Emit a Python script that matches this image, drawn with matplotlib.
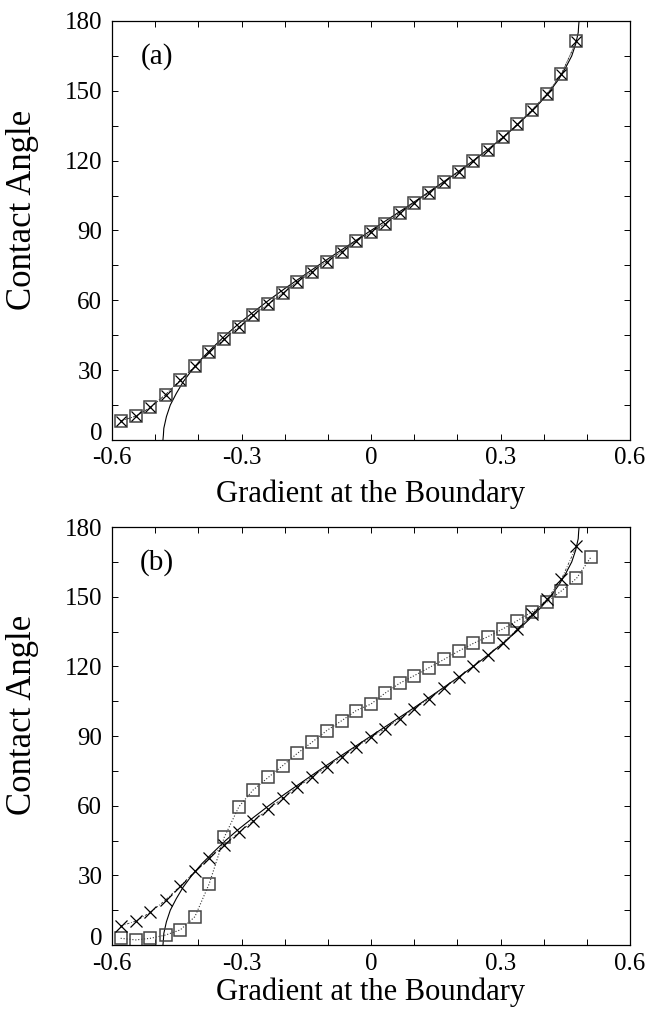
import matplotlib
matplotlib.use('Agg')
import matplotlib.pyplot as plt
from matplotlib.ticker import FixedLocator, FixedFormatter, MultipleLocator

plt.rcParams['font.family'] = ['Liberation Serif', 'DejaVu Serif']
plt.rcParams['axes.unicode_minus'] = False

# gradient values shared by the simulation points
grad = [-0.580, -0.545, -0.511, -0.476, -0.442, -0.408, -0.375, -0.340, -0.306, -0.273,
        -0.238, -0.205, -0.171, -0.137, -0.103, -0.068, -0.035, 0.000, 0.032, 0.066,
        0.100, 0.134, 0.169, 0.204, 0.237, 0.271, 0.305, 0.339, 0.373, 0.408,
        0.441, 0.476]

# panel (a): squares and crosses coincide
angle_a = [8.2, 10.2, 14.0, 19.5, 25.6, 31.6, 37.8, 43.4, 48.5, 53.6,
           58.3, 63.0, 67.9, 72.2, 76.6, 80.9, 85.3, 89.2, 92.9, 97.4,
           101.8, 106.2, 110.7, 115.1, 120.0, 124.7, 130.0, 135.6, 141.8, 148.8,
           157.2, 171.3]

# panel (b): crosses
angle_b_x = [8.2, 10.3, 14.1, 19.4, 25.4, 31.7, 37.6, 43.2, 48.5, 53.4,
             58.4, 63.2, 67.9, 72.4, 76.8, 81.1, 85.3, 89.4, 93.2, 97.5,
             101.8, 106.1, 110.8, 115.4, 120.0, 125.0, 130.2, 136.0, 142.6, 149.0,
             157.5, 171.8]

# panel (b): squares (one extra point at the right)
grad_b_sq = grad + [0.510]
angle_b_sq = [2.9, 2.2, 2.9, 4.3, 6.5, 12.2, 26.3, 46.4, 59.6, 66.8,
              72.2, 77.2, 82.5, 87.3, 92.3, 96.6, 100.9, 103.8, 108.4, 112.7,
              116.0, 119.4, 123.0, 126.7, 129.9, 132.8, 136.1, 139.7, 143.5, 147.8,
              152.5, 157.9, 167.2]

# solid theory curve, read along its length
theory_angle = [0, 2, 5, 10, 15, 20, 25, 30, 35, 40, 45, 50, 55, 60, 65, 70, 75, 80, 85, 90,
                95, 100, 105, 110, 115, 120, 125, 130, 135, 140, 145, 150, 155, 160, 165,
                170, 175, 178, 180]
theory_grad = [-0.482, -0.481, -0.480, -0.474, -0.465, -0.451, -0.435, -0.415, -0.392, -0.365,
               -0.337, -0.306, -0.272, -0.237, -0.200, -0.161, -0.122, -0.082, -0.041, 0.0,
               0.041, 0.082, 0.122, 0.161, 0.200, 0.237, 0.272, 0.306, 0.337, 0.365,
               0.392, 0.415, 0.435, 0.451, 0.465, 0.474, 0.480, 0.481, 0.482]

xtick_vals = [-0.6, -0.3, 0, 0.3, 0.6]
xtick_labels = ['-0.6', '-0.3', '0', '0.3', '0.6']
ytick_vals = [0, 30, 60, 90, 120, 150, 180]
ytick_labels = ['0', '30', '60', '90', '120', '150', '180']

fig = plt.figure(figsize=(6.62, 10.13), dpi=100)
ax_a = fig.add_axes([0.1692, 0.5657, 0.7825, 0.4136])
ax_b = fig.add_axes([0.1692, 0.0671, 0.7825, 0.4126])


def style_axes(ax, tag, xpad, xlab_y):
    ax.set_xlim(-0.6, 0.6)
    ax.set_ylim(0, 180)
    ax.xaxis.set_major_locator(FixedLocator(xtick_vals))
    ax.xaxis.set_major_formatter(FixedFormatter(xtick_labels))
    ax.yaxis.set_major_locator(FixedLocator(ytick_vals))
    ax.yaxis.set_major_formatter(FixedFormatter(ytick_labels))
    ax.xaxis.set_minor_locator(MultipleLocator(0.1))
    ax.yaxis.set_minor_locator(MultipleLocator(15))
    ax.tick_params(which='both', direction='in', top=True, right=True,
                   length=4, width=0.7, labelsize=18)
    ax.tick_params(axis='x', pad=xpad)
    ax.tick_params(axis='y', pad=7)
    # the "0" on the y axis sits on the axis line, above the x labels
    ax.yaxis.get_major_ticks()[0].label1.set_verticalalignment('baseline')
    for sp in ax.spines.values():
        sp.set_linewidth(0.9)
    ax.set_xlabel('Gradient at the Boundary', fontsize=22)
    ax.xaxis.set_label_coords(0.5, xlab_y)
    ax.set_ylabel('Contact Angle', fontsize=25)
    ax.yaxis.set_label_coords(-0.141, 0.55)
    ax.text(0.087, 0.915, tag, transform=ax.transAxes, fontsize=21,
            ha='center', va='center')


# panel (a)
ax_a.plot(theory_grad, theory_angle, '-', color='black', lw=0.8)
ax_a.plot(grad, angle_a, linestyle=(0, (3, 2, 1, 2)), color='#333333', lw=0.6,
          marker='s', ms=8.5, mfc='none', mec='#444444', mew=1.1)
ax_a.plot(grad, angle_a, linestyle=':', color='#333333', lw=0.6,
          marker='x', ms=7, mec='black', mew=0.9)
style_axes(ax_a, '(a)', 5, -0.095)

# panel (b)
ax_b.plot(theory_grad, theory_angle, '-', color='black', lw=0.8)
ax_b.plot(grad_b_sq, angle_b_sq, linestyle=':', color='#333333', lw=0.8,
          marker='s', ms=8.5, mfc='none', mec='#444444', mew=1.1)
ax_b.plot(grad, angle_b_x, linestyle=(0, (3, 2, 1, 2)), color='#333333', lw=0.6,
          marker='x', ms=9, mec='black', mew=0.9)
style_axes(ax_b, '(b)', 6, -0.078)

fig.savefig('out.png', dpi=100)
